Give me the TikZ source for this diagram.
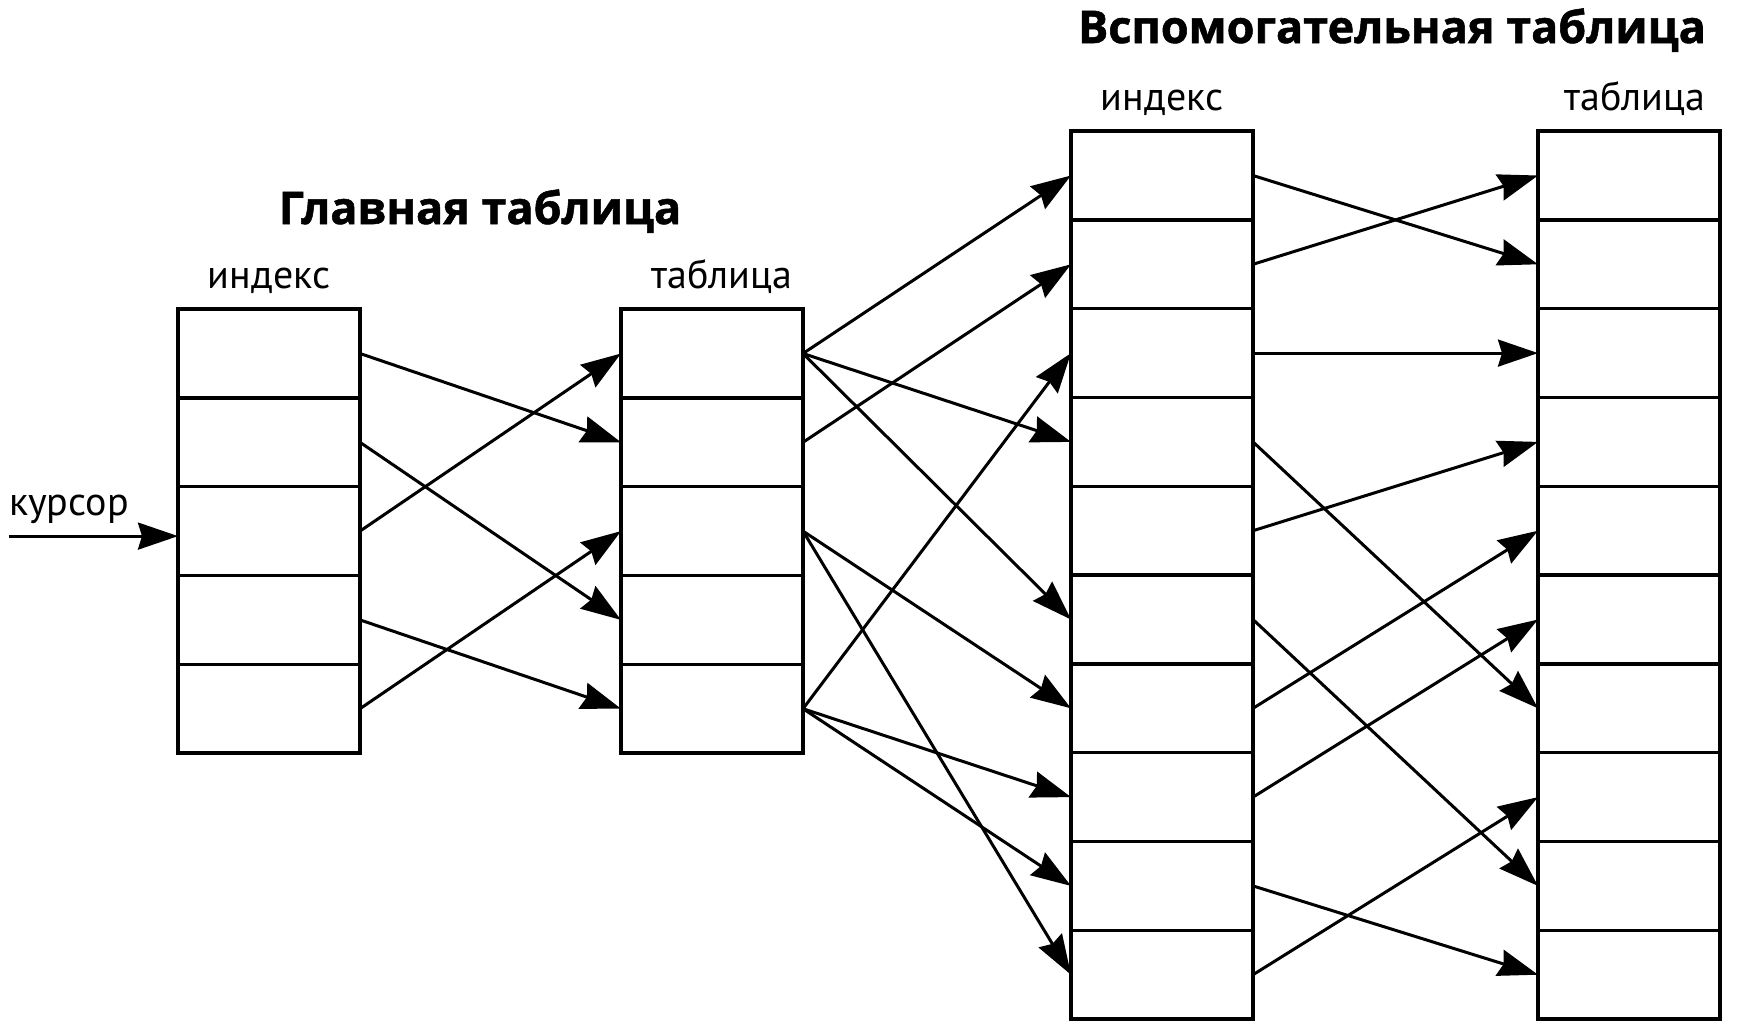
\documentclass[tikz,border=0pt]{standalone}
\usepackage{fontspec}
\setmainfont{PT Sans}
\newfontfamily\headfont{Open Sans}[BoldFeatures={FakeBold=1.2}]
\usepackage{tikz}
\usetikzlibrary{arrows.meta}
\usetikzlibrary{positioning}
\tikzstyle{every node}+=[inner sep=0pt]
\tikzstyle{cell} = [rectangle, draw, line width=3.3bp, outer sep=0pt, minimum width=182bp, minimum height=88.8bp]
\tikzstyle{line} = [draw, line width=3bp, -{Stealth[length=40bp, width=27bp, inset=4bp]}]
\tikzstyle{caption} = [font=\fontsize{40bp}{42bp}\selectfont]
\tikzstyle{title} = [font=\headfont\bfseries\fontsize{45bp}{47bp}\selectfont]
\begin{document}
\begin{tikzpicture}[x=1bp, y=-1bp]
            \useasboundingbox (0,0) rectangle (1743,1024);
            % Place cells: main index, main table, aux index, aux table
            \foreach \c/\x/\y/\n in {mi/269/353.5/5, mt/712/353.5/5, si/1162/175.5/10, st/1629/175.5/10} {
              \node [cell] (\c1) at (\x,\y) {};
              \foreach \i [remember=\i as \j (initially 1)] in {2,...,\n}
                \node [cell, below=0pt of \c\j] (\c\i) {};
            }
            % Place labels
            \node [caption, above=15bp of mi1] (lmi) {индекс};
            \node [caption, above=15bp of mt1, xshift=10bp] (lmt) {таблица};
            \node [caption, above=15bp of si1] (lsi) {индекс};
            \node [caption, above=15bp of st1, xshift=6bp] (lst) {таблица};
            \node [title, anchor=base] (tm) at (480,224) {Главная таблица};
            \node [title, anchor=base] (ts) at (1392,43) {Вспомогательная таблица};
            \coordinate [below left=5bp and 169bp of mi3.west] (cur);
            \node [caption, above right=12bp and 0bp of cur] (lcur) {курсор};
            % Draw edges
            \path [line] (cur) -- (cur -| mi3.west);
            \foreach \a/\b in {1/2, 2/4, 3/1, 4/5, 5/3}
              \path [line] (mi\a.east) -- (mt\b.west);
            \foreach \a/\b in {1/1, 1/4, 1/6, 2/2, 3/7, 3/10, 5/3, 5/8, 5/9}
              \path [line] (mt\a.east) -- (si\b.west);
            \foreach \a/\b in {1/2, 2/1, 3/3, 4/7, 5/4, 6/9, 7/5, 8/6, 9/10, 10/8}
              \path [line] (si\a.east) -- (st\b.west);
\end{tikzpicture}
\end{document}
